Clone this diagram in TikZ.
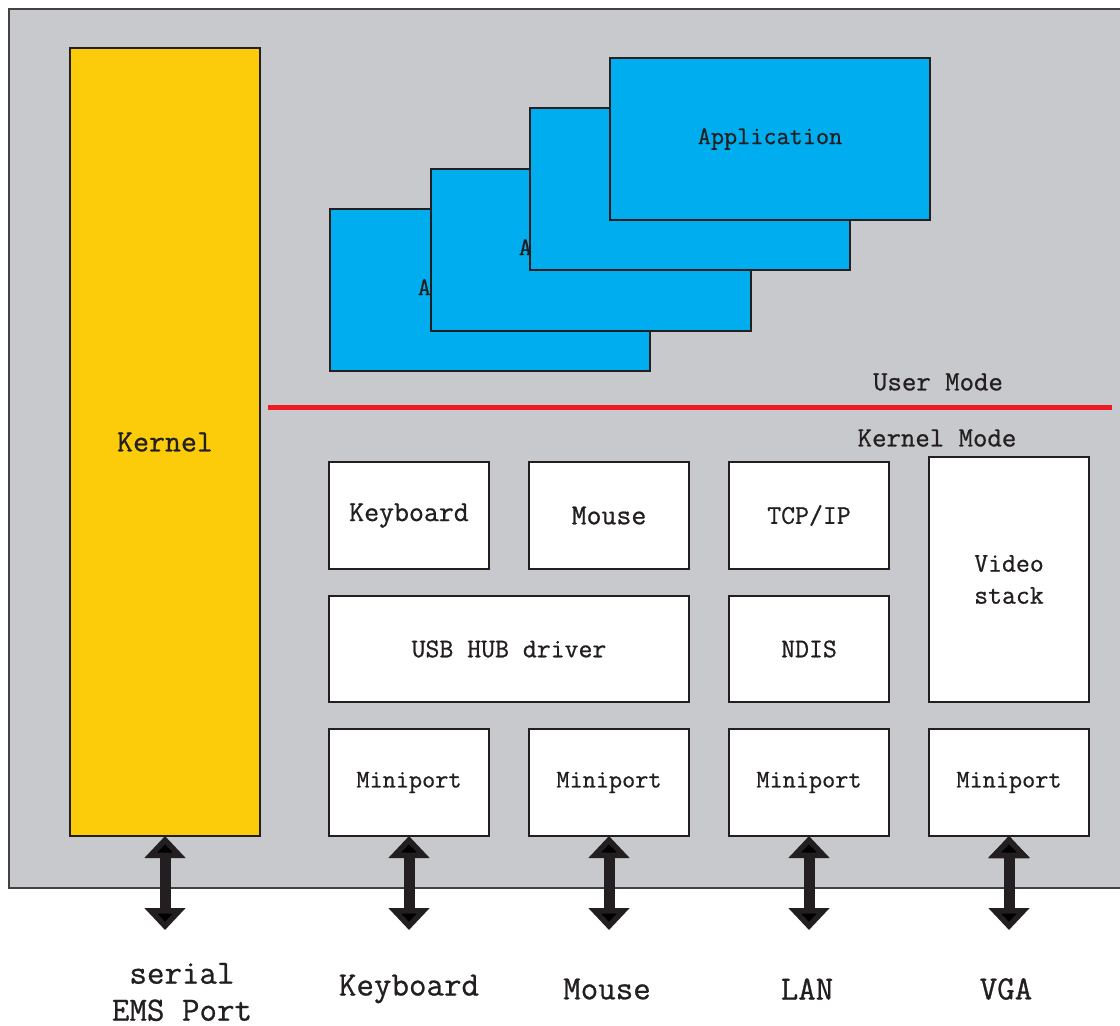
\documentclass[tikz,border=0pt]{standalone}
\usepackage{fontspec}
\setmonofont[FakeBold=0.8]{Latin Modern Mono}
\usetikzlibrary{positioning,arrows.meta}
\definecolor{bggray}{HTML}{C8C9CD}
\definecolor{appblue}{HTML}{00AEEF}
\definecolor{kernyellow}{HTML}{FCCB0A}
\definecolor{modered}{HTML}{ED1C24}
\definecolor{ink}{HTML}{231F20}
\tikzset{
  drvbox/.style={draw=ink, fill=white, text=ink, line width=1.5pt, outer sep=0pt,
    minimum width=160pt, minimum height=107pt, inner sep=0pt, align=center,
    font=\ttfamily\fontsize{27}{32}\selectfont},
  appbox/.style={draw=ink, fill=appblue, text=ink, line width=2pt, anchor=north west,
    minimum width=320pt, minimum height=162pt, inner sep=0pt,
    font=\ttfamily\fontsize{25.5}{28}\selectfont},
  modelabel/.style={text=ink, font=\ttfamily\fontsize{28}{30}\selectfont},
  portlabel/.style={text=ink, align=center, font=\ttfamily\fontsize{34}{37}\selectfont},
  io/.style={draw=ink, line width=11pt, {Triangle[width=40pt,length=22pt]}-{Triangle[width=40pt,length=22pt]}}
}
\begin{document}
\begin{tikzpicture}[x=1pt, y=-1pt]
  \useasboundingbox (0,0) rectangle (1120,1026);
  % machine
  \fill[bggray] (9,9) rectangle (1130,888);
  \draw[ink!85, line width=1.5pt] (1130,9) -- (9,9) -- (9,888) -- (1130,888);
  \node (kern) [draw=ink, fill=kernyellow, text=ink, line width=1.5pt, outer sep=0pt,
    minimum width=190pt, minimum height=788pt, anchor=north west,
    font=\ttfamily\fontsize{31}{34}\selectfont] at (70,48) {Kernel};

  % applications, back to front
  \node (app1) [appbox] at (329,208) {Application};
  \node (app2) [appbox] at (430,168) {Application};
  \node (app3) [appbox] at (529,107) {Application};
  \node (app4) [appbox] at (609,57) {Application};

  % user / kernel boundary
  \coordinate (lineL) at (268,407);
  \coordinate (lineR) at (1112,407);
  \draw[modered, line width=5pt] (lineL) -- (lineR);
  \node (umode) [modelabel] at (938,382) {User Mode};
  \node (kmode) [modelabel] at (937,438) {Kernel Mode};

  % drivers
  \node (kb) [drvbox, font=\ttfamily\fontsize{29}{32}\selectfont] at (409,515.5) {Keyboard};
  \node (ms) [drvbox, font=\ttfamily\fontsize{29}{32}\selectfont, right=40pt of kb] {Mouse};
  \node (tcp) [drvbox, right=40pt of ms] {TCP/IP};
  \node (video) [drvbox, minimum height=245pt] at (1009,579.5) {Video\\stack};
  \node (usb) [drvbox, minimum width=360pt, minimum height=106pt,
    below right=27pt and 0pt of kb.south west] {USB HUB driver};
  \node (ndis) [drvbox, minimum height=106pt, below=27pt of tcp] {NDIS};

  % miniports
  \node (mp1) [drvbox, font=\ttfamily\fontsize{25.5}{28}\selectfont,
    below right=27pt and 0pt of usb.south west] {Miniport};
  \node (mp2) [drvbox, font=\ttfamily\fontsize{25.5}{28}\selectfont, right=40pt of mp1] {Miniport};
  \node (mp3) [drvbox, font=\ttfamily\fontsize{25.5}{28}\selectfont, right=40pt of mp2] {Miniport};
  \node (mp4) [drvbox, font=\ttfamily\fontsize{25.5}{28}\selectfont, right=40pt of mp3] {Miniport};

  % ports
  \coordinate (p0) at ([yshift=-94pt]kern.south);
  \coordinate (p1) at ([yshift=-94pt]mp1.south);
  \coordinate (p2) at ([yshift=-94pt]mp2.south);
  \coordinate (p3) at ([yshift=-94pt]mp3.south);
  \coordinate (p4) at ([yshift=-94pt]mp4.south);
  \path[io]
    (kern.south) edge (p0)
    (mp1.south) edge (p1)
    (mp2.south) edge (p2)
    (mp3.south) edge (p3)
    (mp4.south) edge (p4);
  \node (ems) [portlabel] at (182,992) {serial\\EMS Port};
  \node (lkb) [portlabel] at (409,989) {Keyboard};
  \node (lms) [portlabel] at (607,989) {Mouse};
  \node (lan) [portlabel] at (807,989) {LAN};
  \node (vga) [portlabel] at (1006,989) {VGA};
\end{tikzpicture}
\end{document}
